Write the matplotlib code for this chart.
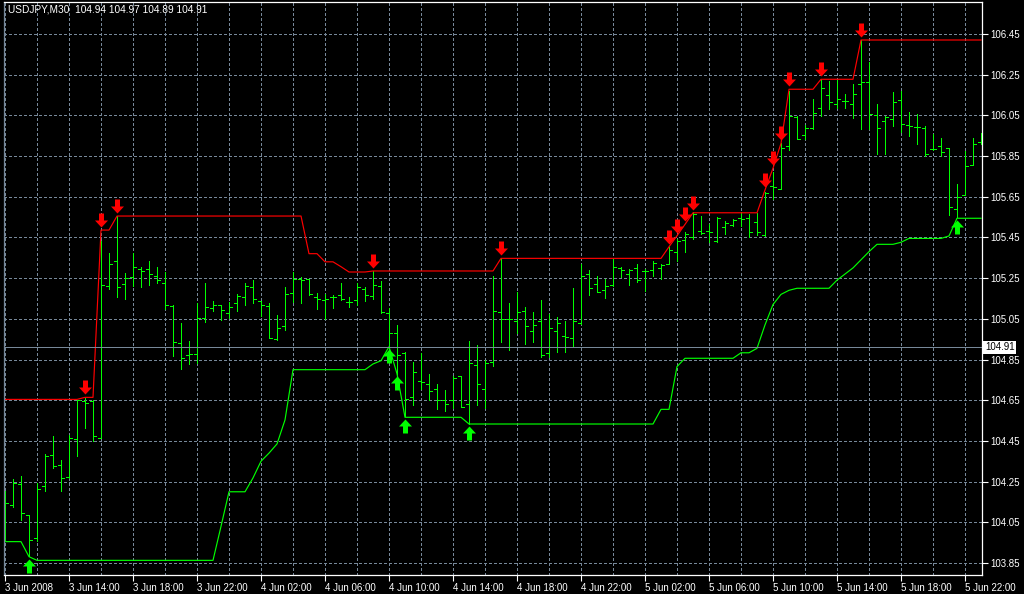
import matplotlib
matplotlib.use("Agg")
import matplotlib.pyplot as plt
import matplotlib.transforms as mtransforms
from matplotlib.path import Path
import numpy as np

plt.rcParams["font.family"] = ["Liberation Sans", "DejaVu Sans"]

# USDJPY M30 bars, first bar 3 Jun 2008 10:00
opens = [
    104.100, 104.137, 104.236, 104.088, 103.973, 104.227, 104.383, 104.334, 104.273, 104.457,
    104.645, 104.645, 104.465, 105.211, 105.334, 105.219, 105.257, 105.296, 105.293, 105.260,
    105.227, 105.112, 104.929, 104.870, 104.875, 105.055, 105.101, 105.116, 105.080, 105.129,
    105.158, 105.207, 105.137, 105.112, 104.949, 105.014, 105.178, 105.244, 105.247, 105.158,
    105.142, 105.158, 105.165, 105.132, 105.142, 105.198, 105.162, 105.211, 105.080, 104.980,
    104.883, 104.668, 104.745, 104.729, 104.704, 104.652, 104.652, 104.767, 104.630, 104.822,
    104.707, 104.839, 105.081, 105.048, 105.040, 105.089, 104.991, 105.040, 104.881, 104.991,
    104.967, 104.958, 105.029, 105.270, 105.219, 105.193, 105.216, 105.298, 105.270, 105.298,
    105.286, 105.291, 105.300, 105.319, 105.380, 105.439, 105.450, 105.483, 105.483, 105.434,
    105.499, 105.511, 105.543, 105.543, 105.524, 105.461, 105.701, 105.690, 105.899, 106.044,
    105.952, 105.990, 106.088, 106.148, 106.104, 106.120, 106.104, 106.202, 106.214, 106.050,
    106.022, 106.030, 106.125, 106.000, 105.994, 105.990, 105.883, 105.899, 105.891, 105.590,
    105.657, 105.808, 105.919,
]
highs = [
    104.206, 104.263, 104.277, 104.088, 104.244, 104.388, 104.476, 104.358, 104.481, 104.653,
    104.662, 104.650, 105.432, 105.371, 105.555, 105.276, 105.371, 105.306, 105.334, 105.306,
    105.280, 105.120, 105.027, 104.940, 105.129, 105.227, 105.137, 105.120, 105.132, 105.170,
    105.227, 105.240, 105.137, 105.129, 105.067, 105.207, 105.280, 105.257, 105.247, 105.178,
    105.170, 105.165, 105.227, 105.158, 105.227, 105.207, 105.284, 105.235, 105.104, 105.020,
    104.888, 104.839, 104.881, 104.778, 104.729, 104.701, 104.770, 104.770, 104.942, 104.921,
    104.848, 105.262, 105.347, 105.130, 105.183, 105.110, 105.081, 105.143, 105.073, 105.057,
    105.040, 105.199, 105.319, 105.291, 105.258, 105.248, 105.343, 105.307, 105.294, 105.319,
    105.294, 105.335, 105.319, 105.401, 105.442, 105.475, 105.576, 105.557, 105.516, 105.548,
    105.532, 105.540, 105.576, 105.565, 105.570, 105.671, 105.773, 105.915, 106.170, 106.047,
    106.000, 106.132, 106.227, 106.219, 106.224, 106.153, 106.202, 106.420, 106.312, 106.104,
    106.047, 106.165, 106.170, 106.066, 106.055, 105.998, 105.957, 105.940, 105.891, 105.711,
    105.875, 105.940, 105.962,
]
lows = [
    103.957, 104.124, 104.063, 103.883, 103.957, 104.203, 104.317, 104.203, 104.268, 104.375,
    104.514, 104.449, 104.465, 105.194, 105.158, 105.145, 105.211, 105.207, 105.214, 105.227,
    105.096, 104.867, 104.804, 104.830, 104.834, 105.034, 105.088, 105.044, 105.055, 105.088,
    105.116, 105.126, 105.063, 104.957, 104.945, 104.994, 105.132, 105.126, 105.165, 105.096,
    105.050, 105.104, 105.142, 105.109, 105.120, 105.137, 105.148, 105.077, 104.900, 104.780,
    104.570, 104.626, 104.707, 104.652, 104.606, 104.598, 104.614, 104.619, 104.535, 104.626,
    104.614, 104.819, 104.937, 104.898, 104.980, 104.926, 104.937, 104.860, 104.860, 104.888,
    104.888, 104.917, 105.024, 105.166, 105.180, 105.150, 105.212, 105.253, 105.216, 105.232,
    105.188, 105.262, 105.248, 105.319, 105.335, 105.380, 105.442, 105.466, 105.425, 105.429,
    105.466, 105.507, 105.507, 105.450, 105.461, 105.458, 105.638, 105.686, 105.880, 105.932,
    105.932, 105.981, 106.047, 106.080, 106.088, 106.088, 106.039, 105.981, 105.981, 105.858,
    105.858, 105.998, 105.968, 105.948, 105.907, 105.850, 105.880, 105.850, 105.560, 105.550,
    105.657, 105.804, 105.912,
]
closes = [
    104.145, 104.244, 104.096, 103.965, 104.214, 104.378, 104.326, 104.268, 104.465, 104.650,
    104.637, 104.473, 105.214, 105.317, 105.207, 105.252, 105.306, 105.284, 105.268, 105.240,
    105.120, 104.935, 104.858, 104.875, 105.055, 105.109, 105.117, 105.093, 105.109, 105.162,
    105.211, 105.148, 105.116, 104.957, 105.006, 105.170, 105.247, 105.240, 105.170, 105.145,
    105.148, 105.158, 105.148, 105.132, 105.207, 105.165, 105.214, 105.083, 104.980, 104.870,
    104.654, 104.789, 104.737, 104.696, 104.652, 104.630, 104.757, 104.619, 104.832, 104.729,
    104.832, 105.089, 105.048, 105.048, 105.081, 105.016, 105.019, 104.871, 105.003, 105.029,
    104.963, 105.040, 105.258, 105.199, 105.180, 105.212, 105.307, 105.291, 105.291, 105.242,
    105.286, 105.324, 105.314, 105.389, 105.434, 105.466, 105.565, 105.471, 105.478, 105.543,
    105.520, 105.537, 105.540, 105.478, 105.478, 105.668, 105.696, 105.890, 106.047, 105.932,
    105.990, 106.060, 106.186, 106.116, 106.132, 106.120, 106.153, 106.214, 106.055, 105.990,
    106.044, 106.116, 106.006, 105.998, 105.994, 105.858, 105.883, 105.870, 105.600, 105.650,
    105.800, 105.907, 105.910,
]

# channel indicator (red upper, green lower)
upper_band = [
    104.654, 104.654, 104.654, 104.654, 104.654, 104.654, 104.654, 104.654, 104.654, 104.654,
    104.664, 104.664, 105.486, 105.486, 105.555, 105.555, 105.555, 105.555, 105.555, 105.555,
    105.555, 105.555, 105.555, 105.555, 105.555, 105.555, 105.555, 105.555, 105.555, 105.555,
    105.555, 105.555, 105.555, 105.555, 105.555, 105.555, 105.555, 105.555, 105.370, 105.370,
    105.330, 105.330, 105.306, 105.280, 105.280, 105.280, 105.285, 105.285, 105.285, 105.285,
    105.285, 105.285, 105.285, 105.285, 105.285, 105.285, 105.285, 105.285, 105.285, 105.285,
    105.285, 105.285, 105.347, 105.347, 105.347, 105.347, 105.347, 105.347, 105.347, 105.347,
    105.347, 105.347, 105.347, 105.347, 105.347, 105.347, 105.347, 105.347, 105.347, 105.347,
    105.347, 105.347, 105.347, 105.404, 105.458, 105.514, 105.571, 105.571, 105.571, 105.571,
    105.571, 105.571, 105.571, 105.571, 105.571, 105.683, 105.790, 105.912, 106.178, 106.178,
    106.178, 106.178, 106.227, 106.227, 106.227, 106.227, 106.227, 106.420, 106.420, 106.420,
    106.420, 106.420, 106.420, 106.420, 106.420, 106.420, 106.420, 106.420, 106.420, 106.420,
    106.420, 106.420, 106.420,
]
lower_band = [
    103.955, 103.955, 103.955, 103.881, 103.863, 103.863, 103.863, 103.863, 103.863, 103.863,
    103.863, 103.863, 103.863, 103.863, 103.863, 103.863, 103.863, 103.863, 103.863, 103.863,
    103.863, 103.863, 103.863, 103.863, 103.863, 103.863, 103.863, 104.030, 104.200, 104.200,
    104.200, 104.268, 104.350, 104.390, 104.435, 104.553, 104.800, 104.800, 104.800, 104.800,
    104.800, 104.800, 104.800, 104.800, 104.800, 104.800, 104.828, 104.844, 104.913, 104.780,
    104.566, 104.566, 104.566, 104.566, 104.566, 104.566, 104.566, 104.566, 104.533, 104.533,
    104.533, 104.533, 104.533, 104.533, 104.533, 104.533, 104.533, 104.533, 104.533, 104.533,
    104.533, 104.533, 104.533, 104.533, 104.533, 104.533, 104.533, 104.533, 104.533, 104.533,
    104.533, 104.533, 104.605, 104.605, 104.815, 104.856, 104.856, 104.856, 104.856, 104.856,
    104.856, 104.856, 104.883, 104.883, 104.905, 105.020, 105.120, 105.170, 105.190, 105.200,
    105.200, 105.200, 105.200, 105.200, 105.240, 105.270, 105.300, 105.340, 105.380, 105.416,
    105.416, 105.416, 105.426, 105.445, 105.445, 105.445, 105.445, 105.445, 105.457, 105.544,
    105.544, 105.544, 105.544,
]

sell_arrow_bars = [10, 12, 14, 46, 62, 83, 84, 85, 86, 95, 96, 97, 98, 102, 107]
buy_arrow_bars = [3, 48, 49, 50, 58, 119]

time_labels = [
    "3 Jun 2008", "3 Jun 14:00", "3 Jun 18:00", "3 Jun 22:00",
    "4 Jun 02:00", "4 Jun 06:00", "4 Jun 10:00", "4 Jun 14:00",
    "4 Jun 18:00", "4 Jun 22:00", "5 Jun 02:00", "5 Jun 06:00",
    "5 Jun 10:00", "5 Jun 14:00", "5 Jun 18:00", "5 Jun 22:00",
]
price_ticks = [103.85, 104.05, 104.25, 104.45, 104.65, 104.85, 105.05,
               105.25, 105.45, 105.65, 105.85, 106.05, 106.25, 106.45]
bid_price = 104.91
header = "USDJPY,M30  104.94 104.97 104.89 104.91"

BAR = "#00ff00"
GRID = "#778899"
LW = 0.5  # one device pixel with antialiasing off

fig = plt.figure(figsize=(10.24, 5.94), dpi=100, facecolor="black")
ax = fig.add_axes([4 / 1024, 19 / 594, 978 / 1024, 573 / 594], facecolor="black")

idx = np.arange(len(opens))
upper_band = np.array(upper_band)
lower_band = np.array(lower_band)

ax.vlines(idx, lows, highs, color=BAR, lw=LW, antialiased=False)
ax.hlines(opens, idx - 0.32, idx, color=BAR, lw=LW, antialiased=False)
ax.hlines(closes, idx, idx + 0.32, color=BAR, lw=LW, antialiased=False)

ax.plot(idx, upper_band, color="#ff0000", lw=0.85)
ax.plot(idx, lower_band, color=BAR, lw=0.85)

ax.axhline(bid_price, color=GRID, lw=LW, antialiased=False)

# arrow markers, tip offset from the anchor point (units are pixels)
down_arrow = Path([(-2.5, 17), (2.5, 17), (2.5, 10), (6.5, 10), (0, 3), (-6.5, 10), (-2.5, 10), (-2.5, 17)], closed=True)
up_arrow = Path([(-2.5, -16), (2.5, -16), (2.5, -9), (6.5, -9), (0, -2), (-6.5, -9), (-2.5, -9), (-2.5, -16)], closed=True)

ax.plot(sell_arrow_bars, upper_band[sell_arrow_bars], ls="none", marker=down_arrow,
        ms=2 * 17 * 0.72, color="#ff0000", mew=0)
ax.plot(buy_arrow_bars, lower_band[buy_arrow_bars], ls="none", marker=up_arrow,
        ms=2 * 16 * 0.72, color=BAR, mew=0)

ax.set_xlim(-0.125, len(opens) - 1 + 0.125)
ax.set_ylim(103.85 - 12 / 203.5, 103.85 + 561 / 203.5)

ax.set_xticks(idx[::8])
ax.set_xticklabels(time_labels)
ax.set_xticks(idx[::4], minor=True)
for lbl in ax.get_xticklabels():
    lbl.set_horizontalalignment("left")

ax.yaxis.tick_right()
ax.set_yticks(price_ticks)
ax.set_yticklabels([f"{p:.2f}" for p in price_ticks])

ax.tick_params(axis="x", which="major", length=4, width=0.8, color="white",
               labelcolor="white", labelsize=7, pad=1.5)
ax.tick_params(axis="x", which="minor", length=0)
ax.tick_params(axis="y", length=4, width=0.8, color="white",
               labelcolor="white", labelsize=7, pad=2)

ax.set_axisbelow(True)
ax.xaxis.grid(True, which="both", color=GRID, linestyle=(0, (4, 3)), lw=LW, antialiased=False)
ax.yaxis.grid(True, which="major", color=GRID, linestyle=(0, (4, 3)), lw=LW, antialiased=False)

for side in ["left", "right", "top", "bottom"]:
    ax.spines[side].set_color("white")
    ax.spines[side].set_linewidth(0.9)
ax.spines["left"].set_color(GRID)

trans = mtransforms.blended_transform_factory(ax.transAxes, ax.transData)
ax.text(1.003, bid_price, f"{bid_price:.2f}", transform=trans, color="black",
        fontsize=7, va="center", ha="left",
        bbox=dict(facecolor="white", edgecolor="none", pad=1.2))

fig.text(8 / 1024, 1 - 4 / 594, header, color="white", fontsize=7.3, va="top", ha="left")

fig.savefig("out.png", dpi=100, facecolor="black")
